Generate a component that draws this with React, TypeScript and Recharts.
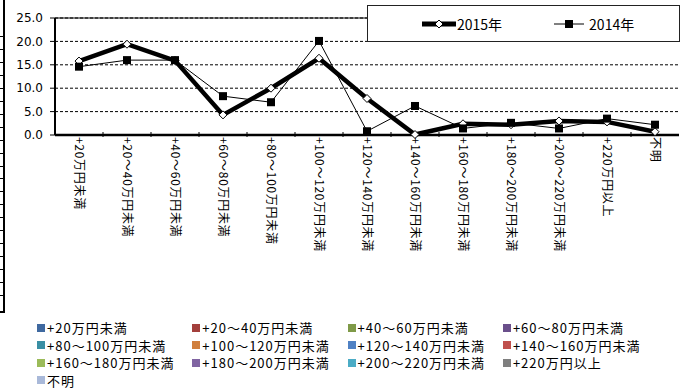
import React from "react";
import {
  LineChart,
  Line,
  XAxis,
  YAxis,
  CartesianGrid,
  ReferenceLine,
  Legend,
} from "recharts";

const categories = [
  "+20万円未満",
  "+20～40万円未満",
  "+40～60万円未満",
  "+60～80万円未満",
  "+80～100万円未満",
  "+100～120万円未満",
  "+120～140万円未満",
  "+140～160万円未満",
  "+160～180万円未満",
  "+180～200万円未満",
  "+200～220万円未満",
  "+220万円以上",
  "不明",
];
const values2015 = [15.8, 19.4, 15.9, 4.3, 10.0, 16.4, 7.8, 0.1, 2.4, 2.2, 3.0, 2.8, 0.7];
const values2014 = [14.6, 16.0, 16.0, 8.3, 7.0, 20.1, 0.8, 6.2, 1.4, 2.6, 1.4, 3.5, 2.2];
const yTicks = [0, 5, 10, 15, 20, 25];
const seriesNames = ["2015年", "2014年"];
const categoryColors = [
  "#3f69a0", "#a33f3c", "#7f9a48", "#6a4f8b", "#3a8fa4", "#d07f3e",
  "#4f81c4", "#c0504d", "#9bbb59", "#8064a2", "#4bacc6", "#7f7f7f", "#a9b9d9",
];

const data = categories.map((c, i) => ({ name: c, y2015: values2015[i], y2014: values2014[i] }));

const W = 692;
const H = 391;
const M = { top: 18, right: 13, left: 0, bottom: 0 };
const Y_W = 55;
const BAND = (W - M.left - M.right - Y_W) / categories.length;
const JP = "'Noto Sans CJK JP', sans-serif";

const XTick = (props: any) => {
  const { x, y, payload, index } = props;
  const axisY = y - 2;
  return (
    <g>
      {index < categories.length - 1 && (
        <line x1={x + BAND / 2} x2={x + BAND / 2} y1={axisY - 3} y2={axisY + 2} stroke="#000" />
      )}
      <text
        x={x}
        y={y}
        dy="0.36em"
        transform={`rotate(90, ${x}, ${y})`}
        textAnchor="start"
        fontSize={12}
        letterSpacing={0.7}
        fontFamily={JP}
        fill="#000"
      >
        {payload.value}
      </text>
    </g>
  );
};

const Diamond = (props: any) => {
  const { cx, cy, index } = props;
  if (cx == null || cy == null) return <g key={`d${index}`} />;
  const r = 4;
  return (
    <path
      key={`d${index}`}
      d={`M${cx},${cy - r}L${cx + r},${cy}L${cx},${cy + r}L${cx - r},${cy}Z`}
      fill="#fff"
      stroke="#000"
      strokeWidth={1}
    />
  );
};

const Square = (props: any) => {
  const { cx, cy, index } = props;
  if (cx == null || cy == null) return <g key={`s${index}`} />;
  return <rect key={`s${index}`} x={cx - 4} y={cy - 4} width={8} height={8} fill="#000" />;
};

const TopLegend = () => (
  <div
    style={{
      width: 313,
      height: 37,
      boxSizing: "border-box",
      border: "1px solid #222",
      background: "#fff",
      display: "flex",
      alignItems: "center",
      fontFamily: JP,
      fontSize: 14,
      color: "#000",
      paddingLeft: 54,
    }}
  >
    <svg width={34} height={12} style={{ display: "block" }}>
      <line x1={0} x2={34} y1={6} y2={6} stroke="#000" strokeWidth={5} />
      <path d="M17,2L21,6L17,10L13,6Z" fill="#fff" stroke="#000" />
    </svg>
    <span style={{ marginLeft: 1 }}>{seriesNames[0]}</span>
    <svg width={30} height={12} style={{ display: "block", marginLeft: 52 }}>
      <line x1={0} x2={30} y1={6} y2={6} stroke="#000" strokeWidth={1} />
      <rect x={11} y={2} width={8} height={8} fill="#000" />
    </svg>
    <span style={{ marginLeft: 5 }}>{seriesNames[1]}</span>
  </div>
);

export default function App() {
  return (
    <div style={{ position: "absolute", left: 0, top: 0, width: W, height: H, background: "#fff" }}>
      {/* stray axis on the far left */}
      <div
        style={{
          position: "absolute",
          left: 0,
          top: 0,
          width: 3,
          height: 311,
          borderRight: "2px solid #000",
          borderBottom: "2px solid #000",
        }}
      >
        <div
          style={{
            position: "absolute",
            left: 0,
            top: 36,
            width: 4,
            height: 262,
            background: "repeating-linear-gradient(to bottom, #000 0px, #000 1px, transparent 1px, transparent 12.95px)",
          }}
        />
      </div>
      <LineChart width={W} height={H} data={data} margin={M}>
        <CartesianGrid vertical={false} stroke="#000" strokeDasharray="3 2" />
        <XAxis
          dataKey="name"
          scale="band"
          interval={0}
          height={H - 135}
          tickLine={false}
          tickSize={0}
          tickMargin={2}
          axisLine={{ stroke: "#000", strokeWidth: 2.5 }}
          tick={<XTick />}
        />
        <YAxis
          domain={[0, 25]}
          ticks={yTicks}
          width={Y_W}
          tickSize={5}
          tickMargin={7}
          tickFormatter={(v: number) => v.toFixed(1)}
          tick={{ fontSize: 12, fill: "#000", fontFamily: "'DejaVu Sans', sans-serif" }}
          axisLine={{ stroke: "#000", strokeWidth: 2 }}
          tickLine={{ stroke: "#000" }}
        />
        <YAxis
          yAxisId="right"
          orientation="right"
          width={0}
          tick={false}
          tickLine={false}
          axisLine={{ stroke: "#000" }}
        />
        <ReferenceLine y={25} stroke="#000" strokeWidth={1} />
        <Legend
          layout="horizontal"
          verticalAlign="middle"
          align="center"
          content={<TopLegend />}
          wrapperStyle={{ position: "absolute", left: 367, top: 5, width: 313, height: 37 }}
        />
        <Line
          dataKey="y2015"
          name={seriesNames[0]}
          stroke="#000"
          strokeWidth={4.5}
          dot={Diamond}
          activeDot={false}
          isAnimationActive={false}
        />
        <Line
          dataKey="y2014"
          name={seriesNames[1]}
          stroke="#000"
          strokeWidth={1}
          dot={Square}
          activeDot={false}
          isAnimationActive={false}
        />
      </LineChart>
      <div
        style={{
          position: "absolute",
          left: 37,
          top: 319,
          width: 640,
          display: "grid",
          gridTemplateColumns: "155.3px 155.3px 155.3px 155.3px",
          gridAutoRows: "17.5px",
          fontFamily: JP,
          fontSize: 13,
          letterSpacing: 1,
          color: "#000",
        }}
      >
        {categories.map((c, i) => (
          <div key={c} style={{ display: "flex", alignItems: "center", whiteSpace: "nowrap" }}>
            <span style={{ width: 8, height: 8, background: categoryColors[i], marginRight: 2, flex: "none" }} />
            <span>{c}</span>
          </div>
        ))}
      </div>
    </div>
  );
}
